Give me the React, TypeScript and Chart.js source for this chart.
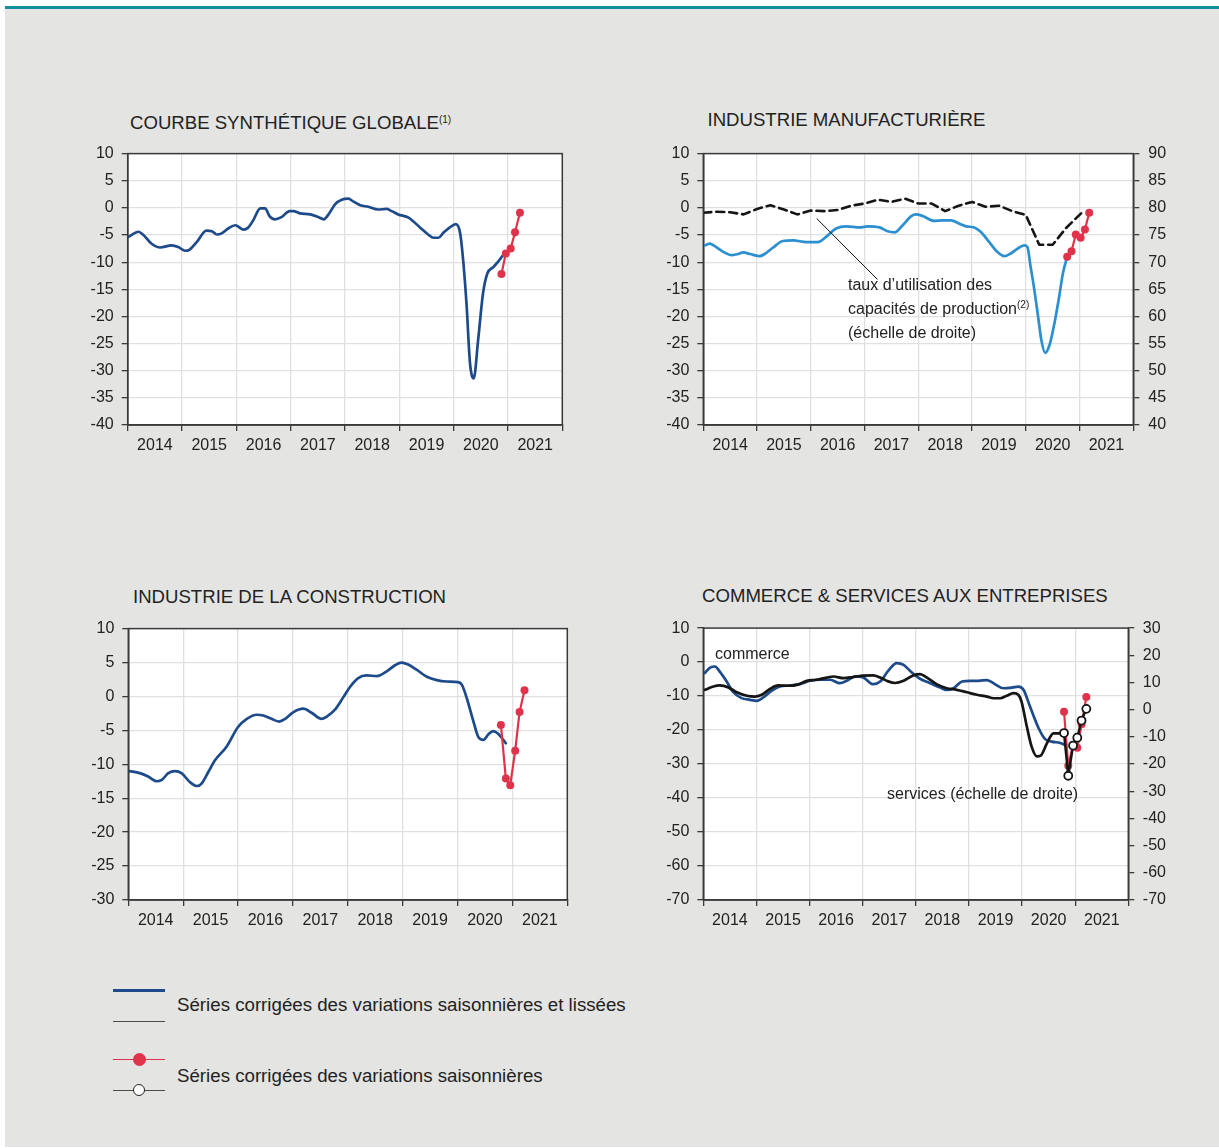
import React, { useEffect, useRef } from 'react';
import { Chart, registerables } from 'chart.js';

Chart.register(...registerables);

const FONT = "'Liberation Sans', Arial, Helvetica, sans-serif";
const AXIS = '#3a3a3a';
const GRID = '#e0e0e0';
const TXT = '#222222';
const DARK_BLUE = '#1d4a8b';
const LIGHT_BLUE = '#2b8fd0';
const RED = '#e0334b';
const BLACK = '#151515';

const YEAR_EDGES = [2014, 2015, 2016, 2017, 2018, 2019, 2020, 2021, 2022];

// Courbe synthétique globale
const G_X = [2014.02, 2014.2, 2014.29, 2014.44, 2014.6, 2014.81, 2014.93, 2015.06, 2015.12, 2015.27, 2015.45, 2015.55, 2015.64, 2015.73, 2015.85, 2015.98, 2016.13, 2016.22, 2016.31, 2016.44, 2016.53, 2016.61, 2016.71, 2016.83, 2016.98, 2017.05, 2017.17, 2017.36, 2017.51, 2017.61, 2017.69, 2017.82, 2017.94, 2018.06, 2018.15, 2018.28, 2018.43, 2018.61, 2018.77, 2018.86, 2018.98, 2019.17, 2019.26, 2019.38, 2019.53, 2019.63, 2019.72, 2019.81, 2019.93, 2020.04, 2020.12, 2020.18, 2020.24, 2020.3, 2020.37, 2020.45, 2020.54, 2020.62, 2020.73, 2020.82, 2020.91];
const G_Y = [-5.3, -4.4, -5.0, -6.6, -7.3, -6.9, -7.2, -7.9, -7.8, -6.3, -4.2, -4.3, -4.9, -4.7, -3.8, -3.2, -4.0, -3.6, -2.3, -0.1, -0.1, -1.5, -2.1, -1.7, -0.6, -0.6, -1.0, -1.2, -1.7, -2.1, -1.3, 0.7, 1.5, 1.7, 1.2, 0.5, 0.2, -0.3, -0.2, -0.6, -1.2, -1.8, -2.5, -3.6, -4.9, -5.5, -5.5, -4.6, -3.6, -3.0, -4.7, -10.2, -18.2, -28.5, -31.4, -24.4, -15.8, -12.1, -10.9, -9.9, -8.7];
const G_RAW_X = [2020.88, 2020.96, 2021.05, 2021.13, 2021.22];
const G_RAW_Y = [-12.2, -8.4, -7.5, -4.5, -0.9];

// Industrie manufacturière
const M_X = [2014.03, 2014.12, 2014.22, 2014.37, 2014.53, 2014.65, 2014.74, 2014.87, 2015.05, 2015.14, 2015.3, 2015.48, 2015.67, 2015.92, 2016.13, 2016.29, 2016.47, 2016.66, 2016.91, 2017.06, 2017.28, 2017.43, 2017.56, 2017.71, 2017.87, 2017.96, 2018.08, 2018.3, 2018.45, 2018.61, 2018.76, 2018.89, 2019.04, 2019.16, 2019.32, 2019.47, 2019.6, 2019.72, 2019.88, 2019.97, 2020.03, 2020.09, 2020.15, 2020.23, 2020.29, 2020.36, 2020.44, 2020.52, 2020.62, 2020.69, 2020.77];
const M_Y = [-6.9, -6.6, -7.1, -8.1, -8.7, -8.5, -8.2, -8.5, -8.9, -8.5, -7.3, -6.1, -6.0, -6.3, -6.3, -5.3, -3.8, -3.4, -3.6, -3.4, -3.6, -4.3, -4.5, -3.2, -1.5, -1.2, -1.5, -2.4, -2.3, -2.3, -2.9, -3.4, -3.6, -4.4, -6.3, -8.1, -8.9, -8.4, -7.3, -6.9, -7.2, -10.9, -14.5, -20.1, -24.4, -26.7, -25.3, -21.9, -16.4, -12.1, -9.0];
const M_RAW_X = [2020.77, 2020.85, 2020.93, 2021.02, 2021.1, 2021.18];
const M_RAW_Y = [-9.0, -8.0, -4.9, -5.5, -4.0, -0.9];
const TUC_X = [2014.0, 2014.25, 2014.5, 2014.75, 2015.0, 2015.25, 2015.5, 2015.75, 2016.0, 2016.25, 2016.5, 2016.75, 2017.0, 2017.25, 2017.5, 2017.75, 2018.0, 2018.25, 2018.5, 2018.75, 2019.0, 2019.25, 2019.5, 2019.75, 2020.0, 2020.25, 2020.5, 2020.75, 2021.04];
const TUC_Y = [79.1, 79.3, 79.2, 78.8, 79.8, 80.5, 79.7, 78.8, 79.5, 79.4, 79.6, 80.4, 80.8, 81.5, 81.1, 81.7, 80.8, 80.8, 79.4, 80.4, 81.1, 80.2, 80.4, 79.4, 78.7, 73.2, 73.2, 76.3, 79.1];
const POINTER_X = [2016.11, 2017.24];
const POINTER_Y = [-1.96, -13.19];

// Industrie de la construction
const C_X = [2014.02, 2014.21, 2014.36, 2014.52, 2014.61, 2014.73, 2014.85, 2014.97, 2015.12, 2015.25, 2015.34, 2015.46, 2015.58, 2015.79, 2016.0, 2016.16, 2016.34, 2016.46, 2016.61, 2016.75, 2016.86, 2017.01, 2017.19, 2017.34, 2017.52, 2017.61, 2017.77, 2017.92, 2018.04, 2018.19, 2018.34, 2018.53, 2018.71, 2018.86, 2018.98, 2019.1, 2019.26, 2019.44, 2019.62, 2019.8, 2020.01, 2020.08, 2020.17, 2020.29, 2020.38, 2020.47, 2020.56, 2020.65, 2020.74, 2020.88];
const C_Y = [-11.0, -11.3, -11.8, -12.5, -12.3, -11.3, -11.0, -11.3, -12.6, -13.2, -12.8, -11.1, -9.4, -7.4, -4.5, -3.3, -2.7, -2.8, -3.3, -3.7, -3.3, -2.3, -1.8, -2.4, -3.3, -3.0, -1.9, -0.1, 1.4, 2.7, 3.1, 3.0, 3.7, 4.6, 5.0, 4.7, 3.9, 2.9, 2.4, 2.2, 2.1, 1.7, -0.3, -3.7, -6.0, -6.4, -5.6, -5.1, -5.5, -6.9];
const C_RAW_X = [2020.79, 2020.88, 2020.96, 2021.05, 2021.13, 2021.22];
const C_RAW_Y = [-4.2, -12.1, -13.1, -8.0, -2.3, 0.9];

// Commerce & services aux entreprises
const K_X = [2014.03, 2014.13, 2014.22, 2014.31, 2014.44, 2014.56, 2014.72, 2014.88, 2015.0, 2015.13, 2015.29, 2015.44, 2015.63, 2015.82, 2016.01, 2016.2, 2016.39, 2016.57, 2016.7, 2016.86, 2017.01, 2017.2, 2017.33, 2017.48, 2017.64, 2017.77, 2017.92, 2018.08, 2018.27, 2018.46, 2018.58, 2018.71, 2018.87, 2019.02, 2019.18, 2019.34, 2019.49, 2019.65, 2019.81, 2019.93, 2020.03, 2020.15, 2020.31, 2020.43, 2020.56, 2020.72, 2020.81];
const K_Y = [-3.2, -1.6, -1.3, -2.8, -5.7, -8.8, -10.6, -11.1, -11.4, -10.4, -8.4, -7.2, -6.9, -6.5, -5.5, -5.2, -5.2, -6.2, -5.5, -4.2, -4.5, -6.5, -5.7, -2.6, -0.3, -0.8, -3.0, -4.9, -6.2, -7.5, -8.2, -7.7, -5.7, -5.5, -5.5, -5.3, -6.5, -7.7, -7.5, -7.2, -8.2, -13.1, -19.4, -22.6, -23.4, -23.8, -24.4];
const K_RAW_X = [2020.79, 2020.87, 2020.96, 2021.04, 2021.12, 2021.21];
const K_RAW_Y = [-14.6, -30.5, -24.5, -25.2, -18.3, -10.3];
const S_X = [2014.03, 2014.19, 2014.31, 2014.47, 2014.63, 2014.82, 2014.97, 2015.1, 2015.26, 2015.41, 2015.6, 2015.76, 2015.95, 2016.13, 2016.32, 2016.45, 2016.64, 2016.82, 2017.01, 2017.2, 2017.33, 2017.48, 2017.61, 2017.77, 2017.95, 2018.08, 2018.21, 2018.39, 2018.58, 2018.77, 2018.96, 2019.15, 2019.34, 2019.46, 2019.59, 2019.71, 2019.84, 2019.93, 2019.99, 2020.09, 2020.18, 2020.28, 2020.35, 2020.47, 2020.59, 2020.72];
const S_Y = [7.3, 8.5, 8.9, 8.2, 6.4, 5.1, 4.8, 5.5, 7.7, 8.9, 8.8, 9.1, 10.6, 11.0, 11.8, 12.2, 11.6, 12.0, 12.5, 12.6, 11.8, 10.4, 9.8, 10.6, 12.6, 13.1, 11.8, 9.4, 7.9, 7.3, 6.4, 5.5, 4.8, 4.2, 4.2, 5.1, 6.1, 5.5, 3.0, -6.2, -13.6, -17.2, -16.9, -12.3, -8.7, -8.7];
const S_RAW_X = [2020.79, 2020.87, 2020.96, 2021.04, 2021.12, 2021.21];
const S_RAW_Y = [-8.6, -24.3, -13.2, -10.3, -4.0, 0.3];

const pts = (xs: number[], ys: number[]) => xs.map((x, i) => ({ x, y: ys[i] }));

const tickFont = { family: FONT, size: 16 };

const framePlugin = {
  id: 'frame',
  beforeDraw(chart: any) {
    const { ctx, chartArea: a } = chart;
    ctx.save();
    ctx.fillStyle = '#ffffff';
    ctx.fillRect(a.left, a.top, a.right - a.left, a.bottom - a.top);
    ctx.restore();
  },
  afterDraw(chart: any) {
    const { ctx, chartArea: a } = chart;
    ctx.save();
    ctx.strokeStyle = AXIS;
    ctx.lineWidth = 1.5;
    ctx.strokeRect(a.left, a.top, a.right - a.left, a.bottom - a.top);
    ctx.restore();
  },
};

const pointerPlugin = {
  id: 'pointer',
  afterDatasetsDraw(chart: any) {
    const xs = chart.scales.x;
    const ys = chart.scales.y;
    const ctx = chart.ctx;
    ctx.save();
    ctx.strokeStyle = '#111';
    ctx.lineWidth = 1;
    ctx.beginPath();
    ctx.moveTo(xs.getPixelForValue(POINTER_X[0]), ys.getPixelForValue(POINTER_Y[0]));
    ctx.lineTo(xs.getPixelForValue(POINTER_X[1]), ys.getPixelForValue(POINTER_Y[1]));
    ctx.stroke();
    ctx.restore();
  },
};

function xScale(height: number, offset: number) {
  return {
    type: 'linear',
    min: 2014,
    max: 2022,
    afterBuildTicks: (s: any) => {
      s.ticks = YEAR_EDGES.map((v) => ({ value: v }));
    },
    afterFit: (s: any) => {
      s.height = height;
    },
    grid: { color: GRID, lineWidth: 1.3, tickColor: AXIS, tickLength: 6, tickWidth: 1.3 },
    border: { color: AXIS, width: 1.5 },
    ticks: {
      autoSkip: false,
      maxRotation: 0,
      minRotation: 0,
      labelOffset: offset,
      padding: 5,
      color: TXT,
      font: tickFont,
      callback: (v: any) => (Number(v) < 2022 ? String(v) : ''),
    },
  };
}

function yScale(position: string, min: number, max: number, step: number, width: number, gridOn: boolean, pad: number) {
  const vals: number[] = [];
  for (let v = min; v <= max + 1e-9; v += step) vals.push(v);
  return {
    type: 'linear',
    position,
    min,
    max,
    afterBuildTicks: (s: any) => {
      s.ticks = vals.map((v) => ({ value: v }));
    },
    afterFit: (s: any) => {
      s.width = width;
    },
    grid: { color: GRID, lineWidth: 1.3, drawOnChartArea: gridOn, tickColor: AXIS, tickLength: 6, tickWidth: 1.3 },
    border: { color: AXIS, width: 1.5 },
    ticks: { autoSkip: false, padding: pad, color: TXT, font: tickFont },
  };
}

const smooth = (data: any, color: string, width: number, order: number, axis = 'y') => ({
  data,
  borderColor: color,
  borderWidth: width,
  pointRadius: 0,
  tension: 0.35,
  cubicInterpolationMode: 'monotone',
  fill: false,
  order,
  yAxisID: axis,
});

const rawRed = (data: any, order: number, axis = 'y') => ({
  data,
  borderColor: RED,
  borderWidth: 2.2,
  pointRadius: 4,
  pointBackgroundColor: RED,
  pointBorderColor: RED,
  pointBorderWidth: 0,
  tension: 0,
  fill: false,
  order,
  yAxisID: axis,
});

const rawOpen = (data: any, order: number, axis = 'y1') => ({
  data,
  borderColor: BLACK,
  borderWidth: 2.5,
  pointRadius: 4,
  pointBackgroundColor: '#ffffff',
  pointBorderColor: BLACK,
  pointBorderWidth: 1.8,
  tension: 0,
  fill: false,
  order,
  yAxisID: axis,
});

type Box = { left: number; top: number; width: number; height: number };

function makeConfig(datasets: any[], scales: any, padding: any, extraPlugins: any[] = []) {
  return {
    type: 'line',
    data: { datasets },
    options: {
      responsive: false,
      animation: false,
      devicePixelRatio: 1,
      layout: { padding },
      plugins: { legend: { display: false }, tooltip: { enabled: false }, title: { display: false } },
      elements: { line: { borderCapStyle: 'round', borderJoinStyle: 'round' } },
      scales,
    },
    plugins: [framePlugin, ...extraPlugins],
  };
}

function Panel({ box, build }: { box: Box; build: () => any }) {
  const ref = useRef<HTMLCanvasElement>(null);
  useEffect(() => {
    const chart = new Chart(ref.current as HTMLCanvasElement, build());
    return () => chart.destroy();
  }, []);
  return (
    <canvas
      ref={ref}
      width={box.width}
      height={box.height}
      style={{ position: 'absolute', left: box.left, top: box.top, width: box.width, height: box.height }}
    />
  );
}

const BOX1: Box = { left: 60, top: 136, width: 520, height: 332 };
const BOX2: Box = { left: 640, top: 135, width: 560, height: 333 };
const BOX3: Box = { left: 60, top: 611, width: 525, height: 332 };
const BOX4: Box = { left: 640, top: 610, width: 560, height: 333 };

const build1 = () =>
  makeConfig(
    [rawRed(pts(G_RAW_X, G_RAW_Y), 0), smooth(pts(G_X, G_Y), DARK_BLUE, 2.7, 1)],
    { x: xScale(43, 27.2), y: yScale('left', -40, 10, 5, 67.7, true, 8) },
    { top: 0, right: 17.7, left: 0, bottom: 0 }
  );

const build2 = () =>
  makeConfig(
    [
      rawRed(pts(M_RAW_X, M_RAW_Y), 0),
      {
        data: pts(TUC_X, TUC_Y),
        borderColor: BLACK,
        borderWidth: 2.6,
        borderDash: [8, 5],
        pointRadius: 0,
        tension: 0,
        fill: false,
        order: 1,
        yAxisID: 'y1',
      },
      smooth(pts(M_X, M_Y), LIGHT_BLUE, 2.7, 2),
    ],
    {
      x: xScale(43, 26.9),
      y: yScale('left', -40, 10, 5, 63.3, true, 8),
      y1: yScale('right', 40, 90, 5, 66.7, false, 9),
    },
    { top: 0, right: 0, left: 0, bottom: 0 },
    [pointerPlugin]
  );

const build3 = () =>
  makeConfig(
    [rawRed(pts(C_RAW_X, C_RAW_Y), 0), smooth(pts(C_X, C_Y), DARK_BLUE, 2.7, 1)],
    { x: xScale(43, 27.4), y: yScale('left', -30, 10, 5, 68.3, true, 8) },
    { top: 0, right: 17.7, left: 0, bottom: 0 }
  );

const build4 = () =>
  makeConfig(
    [
      rawOpen(pts(S_RAW_X, S_RAW_Y), 0),
      rawRed(pts(K_RAW_X, K_RAW_Y), 1),
      smooth(pts(S_X, S_Y), BLACK, 2.7, 2, 'y1'),
      smooth(pts(K_X, K_Y), DARK_BLUE, 2.7, 3),
    ],
    {
      x: xScale(43, 26.6),
      y: yScale('left', -70, 10, 10, 63.3, true, 8),
      y1: yScale('right', -70, 30, 10, 71.7, false, 8.5),
    },
    { top: 0, right: 0, left: 0, bottom: 0 }
  );

function Txt({ x, baseline, size, children, style }: any) {
  return (
    <div
      style={{
        position: 'absolute',
        left: x,
        top: baseline - 0.8465 * size,
        fontSize: size,
        lineHeight: `${size}px`,
        whiteSpace: 'nowrap',
        color: TXT,
        fontFamily: FONT,
        ...style,
      }}
    >
      {children}
    </div>
  );
}

const Sup = ({ children }: any) => (
  <span style={{ fontSize: 10, position: 'relative', top: -6 }}>{children}</span>
);

export default function App() {
  return (
    <div
      style={{
        position: 'absolute',
        left: 0,
        top: 0,
        width: 1219,
        height: 1148,
        background: '#ffffff',
        overflow: 'hidden',
        fontFamily: FONT,
      }}
    >
      <div style={{ position: 'absolute', left: 5, top: 9, width: 1214, height: 1138, background: '#e4e4e2' }} />
      <div style={{ position: 'absolute', left: 5, top: 6, width: 1214, height: 3, background: '#13909c' }} />

      <Txt x={130} baseline={130} size={18.6}>
        COURBE SYNTHÉTIQUE GLOBALE<Sup>(1)</Sup>
      </Txt>
      <Txt x={707.5} baseline={127} size={18.6}>
        INDUSTRIE MANUFACTURIÈRE
      </Txt>
      <Txt x={133} baseline={604} size={18.6}>
        INDUSTRIE DE LA CONSTRUCTION
      </Txt>
      <Txt x={702} baseline={603} size={18.6}>
        COMMERCE &amp; SERVICES AUX ENTREPRISES
      </Txt>

      <Panel box={BOX1} build={build1} />
      <Panel box={BOX2} build={build2} />
      <Panel box={BOX3} build={build3} />
      <Panel box={BOX4} build={build4} />

      <Txt x={848} baseline={290.7} size={16}>
        taux d’utilisation des
      </Txt>
      <Txt x={848} baseline={315} size={16}>
        capacités de production<Sup>(2)</Sup>
      </Txt>
      <Txt x={848} baseline={339} size={16}>
        (échelle de droite)
      </Txt>

      <Txt x={715} baseline={660} size={16}>
        commerce
      </Txt>
      <Txt x={887} baseline={800} size={16}>
        services (échelle de droite)
      </Txt>

      <div style={{ position: 'absolute', left: 113, top: 989, width: 52, height: 3, background: DARK_BLUE }} />
      <div style={{ position: 'absolute', left: 113, top: 1020.5, width: 52, height: 1.5, background: '#4a4a4a' }} />
      <Txt x={177} baseline={1012} size={18.7}>
        Séries corrigées des variations saisonnières et lissées
      </Txt>
      <div style={{ position: 'absolute', left: 113, top: 1058.5, width: 52, height: 1.5, background: RED }} />
      <div
        style={{ position: 'absolute', left: 132.5, top: 1052.5, width: 13, height: 13, borderRadius: '50%', background: RED }}
      />
      <div style={{ position: 'absolute', left: 113, top: 1089.5, width: 52, height: 1.5, background: '#4a4a4a' }} />
      <div
        style={{
          position: 'absolute',
          left: 133,
          top: 1084,
          width: 10,
          height: 10,
          borderRadius: '50%',
          background: '#fff',
          border: '1.5px solid #222',
        }}
      />
      <Txt x={177} baseline={1083} size={18.7}>
        Séries corrigées des variations saisonnières
      </Txt>
    </div>
  );
}
